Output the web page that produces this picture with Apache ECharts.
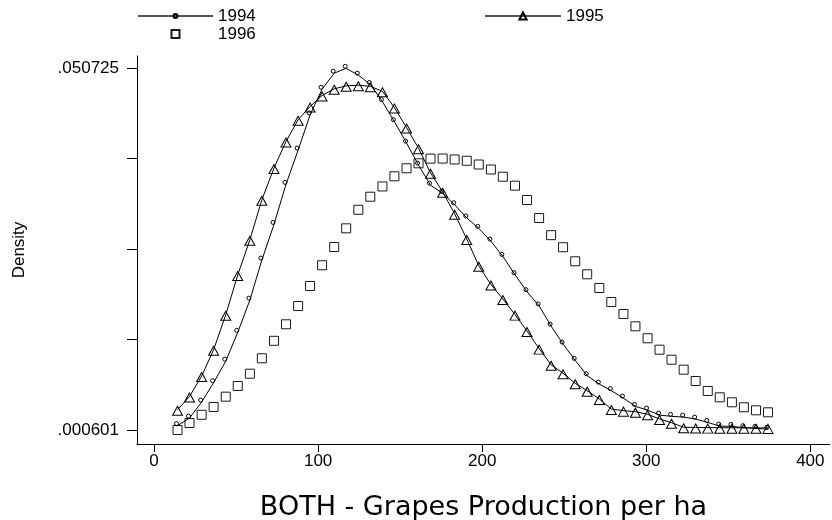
<!DOCTYPE html>
<html><head><meta charset="utf-8">
<script src="https://cdn.jsdelivr.net/npm/echarts@6/dist/echarts.min.js"></script>
<style>html,body{margin:0;padding:0;background:#fff}#c{width:832px;height:520px}</style>
</head><body><div id="c"></div>
<script>
// x grid of the kernel density estimates (BOTH - Grapes Production per ha)
const xGrid = [14.3,21.6,29.0,36.3,43.7,51.0,58.4,65.7,73.1,80.4,87.8,95.1,102.4,109.8,117.1,124.5,131.8,139.2,146.5,153.9,161.2,168.5,175.9,183.2,190.6,197.9,205.3,212.6,220.0,227.3,234.7,242.0,249.3,256.7,264.0,271.4,278.7,286.1,293.4,300.8,308.1,315.4,322.8,330.1,337.5,344.8,352.2,359.5,366.9,374.2];
const d1994 = [.00120,.00225,.00447,.00716,.01014,.01413,.01860,.02415,.02909,.03464,.03939,.04427,.04783,.05005,.050725,.04978,.04849,.04611,.04333,.04036,.03731,.03453,.03339,.03182,.02999,.02854,.02678,.02466,.02212,.01977,.01780,.01500,.01251,.01025,.00813,.00696,.00605,.00502,.00387,.00336,.00267,.00249,.00239,.00211,.00165,.00114,.00110,.00092,.00082,.00070];
const d1995 = [.00341,.00524,.00808,.01173,.01657,.02208,.02696,.03250,.03691,.04057,.04359,.04543,.04696,.04788,.04830,.04838,.04823,.04754,.04528,.04251,.03965,.03624,.03361,.03056,.02707,.02337,.02076,.01876,.01659,.01432,.01188,.00964,.00846,.00707,.00605,.00490,.00351,.00328,.00314,.00278,.00213,.00161,.00098,.00095,.00093,.00092,.00091,.00090,.00090,.00089];
const d1996 = [.000601,.00157,.00271,.00379,.00522,.00670,.00840,.01054,.01296,.01525,.01778,.02056,.02343,.02596,.02855,.03112,.03293,.03435,.03576,.03687,.03756,.03821,.03822,.03809,.03791,.03739,.03670,.03570,.03446,.03247,.02998,.02760,.02593,.02398,.02218,.02028,.01834,.01668,.01497,.01331,.01173,.01034,.00896,.00739,.00601,.00513,.00444,.00375,.00333,.00305];
const seriesNames = ['1994','1995','1996'];
const xTickValues = [0,100,200,300,400];
const yTickValues = [0.000601,0.013132,0.025663,0.038194,0.050725];
const yLabelValues = [0.000601,0.050725];
const xTitle = 'BOTH - Grapes Production per ha';
const yTitle = 'Density';

const FONT = "'Liberation Sans', Arial, Helvetica, sans-serif";
const pair = ys => xGrid.map((x, i) => [x, ys[i]]);
const chart = echarts.init(document.getElementById('c'), null, {renderer: 'canvas'});
const legendBase = {
  orient: 'horizontal', padding: 0, itemGap: 0, selectedMode: false,
  textStyle: {fontFamily: FONT, fontSize: 17, color: '#000'},
  lineStyle: {color: '#555'}
};
chart.setOption({
  animation: false,
  backgroundColor: '#fff',
  textStyle: {fontFamily: FONT},
  legend: [
    Object.assign({}, legendBase, {data: [seriesNames[0]], left: 137, top: 7.5, itemWidth: 75, itemHeight: 5}),
    Object.assign({}, legendBase, {data: [seriesNames[1]], left: 484, top: 7.5, itemWidth: 76, itemHeight: 9}),
    Object.assign({}, legendBase, {data: [seriesNames[2]], left: 137, top: 25.5, itemWidth: 75, itemHeight: 10})
  ],
  grid: {left: 137, right: 2, top: 56, bottom: 76, containLabel: false, outerBoundsMode: 'none'},
  xAxis: {
    type: 'value', min: -10.4, max: 412,
    name: xTitle, nameLocation: 'middle', nameGap: 50,
    nameTextStyle: {fontFamily: "'DejaVu Sans', 'Liberation Sans', sans-serif", fontSize: 27, color: '#000'},
    axisLine: {show: true, onZero: false, lineStyle: {color: '#000', width: 1}},
    axisTick: {show: true, length: 8, customValues: xTickValues, lineStyle: {color: '#000'}},
    axisLabel: {customValues: xTickValues, margin: 9, fontSize: 17, color: '#000', fontFamily: FONT},
    splitLine: {show: false}
  },
  yAxis: {
    type: 'value', min: -0.00134, max: 0.05243,
    name: yTitle, nameLocation: 'middle', nameGap: 109,
    nameTextStyle: {fontFamily: FONT, fontSize: 17, color: '#000'},
    axisLine: {show: true, onZero: false, lineStyle: {color: '#000', width: 1}},
    axisTick: {show: true, length: 10, customValues: yTickValues, lineStyle: {color: '#000'}},
    axisLabel: {customValues: yLabelValues, margin: 18, fontSize: 17, color: '#000', fontFamily: FONT,
      formatter: v => v.toFixed(6).replace(/^0/, '')},
    splitLine: {show: false}
  },
  series: [
    {
      name: seriesNames[0], type: 'line', data: pair(d1994),
      symbol: 'circle', symbolSize: 4, symbolOffset: [-1, -2],
      itemStyle: {color: 'rgba(255,255,255,0)', borderColor: '#000', borderWidth: 1},
      lineStyle: {color: '#000', width: 1},
      emphasis: {disabled: true}, z: 3
    },
    {
      name: seriesNames[1], type: 'line', data: pair(d1995),
      symbol: 'triangle', symbolSize: [10, 9], symbolOffset: [0, 1],
      itemStyle: {color: 'rgba(255,255,255,0)', borderColor: '#000', borderWidth: 1},
      lineStyle: {color: '#000', width: 1},
      emphasis: {disabled: true}, z: 3
    },
    {
      name: seriesNames[2], type: 'line', data: pair(d1996),
      symbol: 'rect', symbolSize: 9,
      itemStyle: {color: 'rgba(255,255,255,0)', borderColor: '#1a1a1a', borderWidth: 1},
      lineStyle: {color: '#000', width: 1, opacity: 0},
      emphasis: {disabled: true}, z: 2
    }
  ]
});
</script>
</body></html>
